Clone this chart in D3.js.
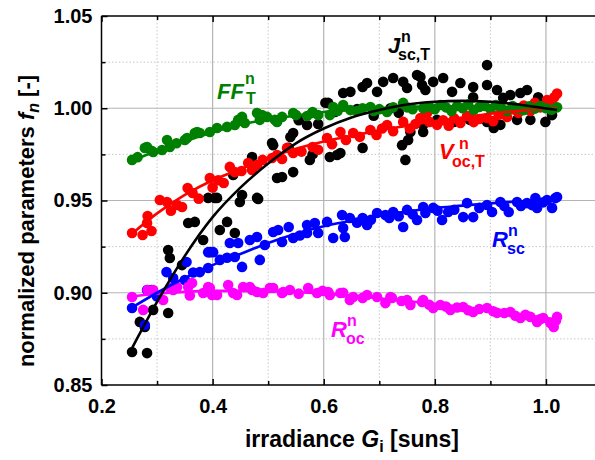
<!DOCTYPE html>
<html><head><meta charset="utf-8">
<script src="https://cdn.jsdelivr.net/npm/d3@7/dist/d3.min.js"></script>
<style>body{margin:0;background:#fff}svg{display:block}text{font-family:Arial,"Liberation Sans",sans-serif;font-weight:bold}</style>
</head><body><svg id="c" width="595" height="460"></svg>
<script>
// ---------------- data ----------------
const xTicks = [0.2, 0.4, 0.6, 0.8, 1.0];
const xTickLabels = ["0.2", "0.4", "0.6", "0.8", "1.0"];
const yTicks = [0.85, 0.90, 0.95, 1.00, 1.05];
const yTickLabels = ["0.85", "0.90", "0.95", "1.00", "1.05"];

const ffG = [.255,.265,.278,.282,.29,.293,.309,.318,.323,.335,.35,.354,.368,.372,.377,.395,.408,.426,.44,.446,.453,.458,.48,.485,.489,.498,.512,.516,.525,.545,.55,.57,.579,.58,.59,.611,.617,.625,.635,.648,.66,.67,.684,.69,.70,.714,.725,.743,.75,.76,.779,.79,.80,.81,.82,.83,.84,.85,.86,.87,.88,.89,.90,.91,.92,.93,.94,.95,.96,.97,.98,.99,1.0,1.01,1.02];
const ffV = [.972,.9735,.9785,.979,.977,.9763,.9774,.9828,.979,.981,.9828,.9839,.9866,.9871,.9866,.9871,.9893,.9899,.9909,.9937,.9953,.992,.9974,.9937,.9963,.9953,.9937,.9926,.9953,.9974,.9963,.9958,.9974,.998,.9963,.9963,1.0007,.9985,1.0018,.999,.9985,1.0,1.0007,.9985,.9995,.998,1.0005,1.0029,1.0005,.9995,1.0,1.001,.9995,1.0018,1.0005,.9985,1.0012,1.0,1.002,.999,1.0007,1.0012,.9995,1.0018,1.0,.9985,1.0012,1.0,.999,1.001,.9998,1.0012,1.0,.9992,1.0005];

const vocG = [.255,.274,.282,.283,.29,.305,.318,.325,.336,.345,.355,.364,.375,.395,.40,.41,.42,.431,.44,.452,.464,.471,.48,.49,.507,.516,.525,.534,.545,.56,.58,.59,.606,.615,.63,.64,.653,.665,.684,.695,.705,.714,.725,.743,.755,.765,.774,.786,.79,.804,.815,.825,.835,.846,.858,.87,.88,.894,.905,.915,.93,.94,.95,.96,.972,.98,.99,1.002,1.01,1.015,1.02];
const vocV = [.9324,.9313,.9378,.9416,.9335,.9503,.9492,.9445,.9476,.9465,.9568,.9541,.951,.9622,.957,.961,.9595,.9682,.9654,.966,.9703,.9665,.9692,.972,.973,.9747,.9725,.9785,.9758,.9765,.979,.9775,.9839,.9805,.9871,.9828,.9866,.9845,.9882,.9855,.989,.9909,.9875,.9926,.989,.9915,.9947,.9974,.9926,.991,.9935,.9905,.9945,.992,.9958,.9925,.9942,.9947,.993,.9965,.9953,.9995,.9975,1.0015,.9985,1.003,1.0005,1.0045,1.0025,1.006,1.008];

const jscG = [.255,.269,.278,.282,.293,.32,.32,.323,.345,.356,.368,.383,.392,.395,.404,.408,.413,.426,.437,.44,.449,.453,.471,.48,.482,.507,.509,.516,.525,.537,.54,.545,.545,.555,.57,.575,.58,.59,.603,.608,.611,.62,.624,.63,.635,.648,.66,.67,.67,.678,.69,.696,.707,.72,.725,.735,.741,.743,.747,.75,.752,.756,.768,.774,.777,.779,.779,.783,.797,.804,.815,.831,.834,.846,.863,.869,.869,.894,.894,.894,.906,.912,.918,.923,.936,.948,.954,.966,.972,.986,.999,1.002,1.011,1.014];
const jscV = [.8679,.8842,.8814,.8673,.8907,.889,.9232,.9188,.915,.9378,.9384,.9286,.9514,.922,.9514,.9514,.934,.9384,.9638,.9324,.9492,.953,.9736,.9514,.9508,.9812,.98,.9622,.9627,.9785,.9844,.9866,.9654,.9935,.9909,.972,.975,.9915,1.003,1.0029,.9736,.998,.9747,.9757,1.0083,1.0089,.9995,1.0115,.9785,1.0137,.996,1.0089,1.0143,1.0,1.0164,.9975,.98,1.0143,.972,1.011,.9828,.9871,1.018,1.017,1.0126,.991,.9871,1.0099,1.0143,.9937,1.0164,1.0089,.9926,1.0137,.9937,1.0115,1.006,1.0234,1.0126,.9926,.9893,1.0099,.991,1.0056,1.0072,.9937,1.0083,1.0099,.9937,1.006,.9926,1.0034,.9963,1.0007];

const rscG = [.255,.278,.282,.29,.30,.317,.329,.35,.353,.365,.377,.392,.392,.401,.413,.426,.431,.44,.446,.453,.467,.48,.485,.494,.509,.518,.525,.537,.545,.557,.57,.57,.584,.59,.606,.617,.633,.635,.638,.647,.66,.67,.678,.685,.696,.711,.718,.725,.735,.743,.75,.76,.768,.779,.783,.797,.805,.813,.824,.835,.851,.858,.869,.88,.894,.903,.918,.925,.933,.948,.955,.966,.975,.981,.984,.995,1.002,1.011,1.017,1.02];
const rscV = [.8917,.8825,.9015,.9015,.898,.9112,.908,.9069,.9167,.911,.9112,.9134,.922,.922,.9178,.919,.927,.9194,.927,.914,.9286,.9302,.9178,.9259,.9329,.934,.9275,.9356,.9297,.931,.9324,.9367,.9378,.9324,.9384,.9297,.9421,.9351,.9302,.9405,.938,.9405,.9367,.9395,.9432,.9421,.9405,.9438,.9415,.9356,.9449,.9425,.9394,.9465,.9432,.946,.9445,.9394,.9438,.945,.941,.9486,.941,.946,.9476,.9438,.9492,.947,.9438,.9492,.947,.9486,.9475,.9513,.946,.949,.9503,.946,.9513,.9519];

const rocG = [.255,.275,.283,.293,.311,.323,.329,.336,.356,.359,.363,.383,.392,.395,.399,.408,.428,.437,.444,.455,.467,.471,.48,.491,.503,.509,.525,.527,.539,.555,.572,.588,.598,.608,.611,.63,.635,.647,.653,.67,.678,.696,.711,.72,.723,.74,.75,.756,.777,.779,.79,.797,.81,.82,.828,.84,.851,.86,.869,.88,.894,.905,.912,.925,.936,.945,.954,.963,.972,.984,.99,.995,1.008,1.014,1.018,1.02];
const rocV = [.8977,.8907,.9015,.9015,.8961,.9026,.9015,.9031,.9031,.8985,.9053,.8999,.9031,.9026,.8988,.8988,.9042,.8999,.8988,.9031,.9031,.9015,.9004,.8999,.9026,.9026,.8999,.9004,.9015,.8995,.9026,.8999,.901,.9004,.8988,.8999,.9,.8961,.8977,.8972,.8988,.8977,.8944,.8977,.8972,.8955,.8961,.8934,.895,.8961,.8935,.8917,.8934,.8925,.8907,.892,.8923,.8905,.8896,.8912,.8917,.89,.8891,.889,.8896,.8875,.8863,.888,.8869,.8842,.8858,.8863,.8836,.8815,.885,.8869];

const fitG   = [.255,.3,.35,.4,.45,.5,.55,.6,.65,.7,.75,.8,.85,.9,.95,1.02];
const fitJsc = [.870,.895,.920,.941,.957,.970,.981,.989,.995,.999,1.002,1.0035,1.004,1.0035,1.002,.999];
const fitFF  = [.9715,.977,.982,.987,.991,.994,.996,.998,.999,1.0,1.0008,1.001,1.001,1.0008,1.0005,1.0];
const fitVoc = [.932,.943,.953,.961,.967,.973,.978,.982,.985,.988,.9905,.993,.995,.997,.9985,1.0005];
const fitRsc = [.892,.900,.908,.915,.921,.927,.932,.936,.939,.942,.944,.946,.9472,.9485,.9495,.951];
const fitRoc = [.898,.8995,.9005,.901,.901,.9008,.9003,.8995,.8985,.897,.8955,.894,.8923,.8905,.8885,.8855];

// ---------------- layout ----------------
const svg = d3.select("#c");
const L = 101.5, T = 16, B = 385, R = 601.5;
const x = d3.scaleLinear().domain([0.2, 1.1]).range([L, R]);
const y = d3.scaleLinear().domain([0.85, 1.05]).range([B, T]);

const C = {jsc:"#000000", ff:"#008000", voc:"#ff0000", rsc:"#0000ff", roc:"#ff00ff"};

// grid
const g = svg.append("g");
const xMinor = [0.3,0.5,0.7,0.9], yMinor = [0.875,0.925,0.975,1.025];
g.selectAll(".xmn").data(xMinor).join("line").attr("x1",d=>x(d)).attr("x2",d=>x(d)).attr("y1",T).attr("y2",B)
  .attr("stroke","#c8c8c8").attr("stroke-width",1).attr("stroke-dasharray","1.5,2");
g.selectAll(".ymn").data(yMinor).join("line").attr("x1",L).attr("x2",595).attr("y1",d=>y(d)).attr("y2",d=>y(d))
  .attr("stroke","#c8c8c8").attr("stroke-width",1).attr("stroke-dasharray","1.5,2");
g.selectAll(".xmj").data([0.4,0.6,0.8,1.0]).join("line").attr("x1",d=>x(d)).attr("x2",d=>x(d)).attr("y1",T).attr("y2",B)
  .attr("stroke","#b4b4b4").attr("stroke-width",1.2);
g.selectAll(".ymj").data([0.90,0.95,1.00]).join("line").attr("x1",L).attr("x2",595).attr("y1",d=>y(d)).attr("y2",d=>y(d))
  .attr("stroke","#b4b4b4").attr("stroke-width",1.2);

// points
function pts(G, V, col){
  svg.append("g").selectAll("circle").data(G.map((d,i)=>[d,V[i]])).join("circle")
    .attr("cx",d=>x(d[0])).attr("cy",d=>y(d[1])).attr("r",5.3).attr("fill",col);
}
pts(jscG, jscV, C.jsc);
pts(rscG, rscV, C.rsc);
pts(rocG, rocV, C.roc);
pts(vocG, vocV, C.voc);
pts(ffG, ffV, C.ff);

// fit lines
const line = d3.line().x(d=>x(d[0])).y(d=>y(d[1])).curve(d3.curveMonotoneX);
function fit(V, col){
  svg.append("path").datum(fitG.map((d,i)=>[d,V[i]])).attr("d",line)
    .attr("fill","none").attr("stroke",col).attr("stroke-width",2.6);
}
fit(fitRoc, C.roc); fit(fitRsc, C.rsc); fit(fitVoc, C.voc); fit(fitFF, C.ff); fit(fitJsc, C.jsc);

// frame & axes
const ax = svg.append("g");
ax.append("line").attr("x1",L).attr("x2",595).attr("y1",T).attr("y2",T).attr("stroke","#000").attr("stroke-width",1.5);
ax.append("line").attr("x1",L).attr("x2",595).attr("y1",B).attr("y2",B).attr("stroke","#000").attr("stroke-width",1.5);
ax.append("line").attr("x1",L).attr("x2",L).attr("y1",T).attr("y2",B).attr("stroke","#000").attr("stroke-width",1.5);

const xb = d3.axisBottom(x).tickValues(xTicks).tickSize(-6).tickFormat((d,i)=>xTickLabels[i]).tickPadding(14);
svg.append("g").attr("transform",`translate(0,${B})`).call(xb);
svg.append("g").attr("transform",`translate(0,${T})`).call(d3.axisTop(x).tickValues(xTicks).tickSize(-6).tickFormat(""));
svg.append("g").attr("transform",`translate(0,${B})`).call(d3.axisBottom(x).tickValues(xMinor).tickSize(-4).tickFormat(""));
svg.append("g").attr("transform",`translate(0,${T})`).call(d3.axisTop(x).tickValues(xMinor).tickSize(-4).tickFormat(""));
const yl = d3.axisLeft(y).tickValues(yTicks).tickSize(-6).tickFormat((d,i)=>yTickLabels[i]).tickPadding(9);
svg.append("g").attr("transform",`translate(${L},0)`).call(yl);
svg.append("g").attr("transform",`translate(${L},0)`).call(d3.axisLeft(y).tickValues(yMinor).tickSize(-4).tickFormat(""));
svg.selectAll(".domain").remove();
svg.selectAll(".tick line").attr("stroke","#000").attr("stroke-width",1.5);
svg.selectAll(".tick text").attr("font-size",20).attr("font-weight","bold").attr("fill","#000")
  .style("font-family",'Arial,"Liberation Sans",sans-serif');

// axis titles
const xtT = svg.append("text").attr("x",352).attr("y",447).attr("text-anchor","middle").attr("font-size",23).attr("fill","#000");
xtT.append("tspan").text("irradiance ");
xtT.append("tspan").attr("font-style","italic").text("G");
xtT.append("tspan").attr("font-size",16).attr("dy",5).text("i");
xtT.append("tspan").attr("dy",-5).text(" [suns]");

const ytT = svg.append("text").attr("transform","translate(34,221) rotate(-90)").attr("text-anchor","middle").attr("font-size",22).attr("fill","#000");
ytT.append("tspan").text("normalized parameters ");
ytT.append("tspan").attr("font-style","italic").text("f");
ytT.append("tspan").attr("font-style","italic").attr("font-size",16).attr("dy",5).text("n");
ytT.append("tspan").attr("dy",-5).text(" [-]");

// series labels (one text element each, sup/sub stacked via absolute tspans)
const labels = [
  {main:"FF", sup:"n", sub:"T",    col:C.ff,  mx:217, my:99,  sx:245, sy:84,  bx:246, by:104},
  {main:"J",  sup:"n", sub:"sc,T", col:C.jsc, mx:388, my:53,  sx:401, sy:42,  bx:398, by:60},
  {main:"V",  sup:"n", sub:"oc,T", col:C.voc, mx:439, my:159, sx:459, sy:149, bx:452, by:167},
  {main:"R",  sup:"n", sub:"sc",   col:C.rsc, mx:492, my:247, sx:508, sy:236, bx:507, by:254},
  {main:"R",  sup:"n", sub:"oc",   col:C.roc, mx:331, my:337, sx:347, sy:326, bx:346, by:344}
];
labels.forEach(l=>{
  const t = svg.append("text").attr("fill",l.col);
  t.append("tspan").attr("x",l.mx).attr("y",l.my).attr("font-size",22).attr("font-style","italic").text(l.main);
  t.append("tspan").attr("x",l.sx).attr("y",l.sy).attr("font-size",16).text(l.sup);
  t.append("tspan").attr("x",l.bx).attr("y",l.by).attr("font-size",16).text(l.sub);
});
</script></body></html>
